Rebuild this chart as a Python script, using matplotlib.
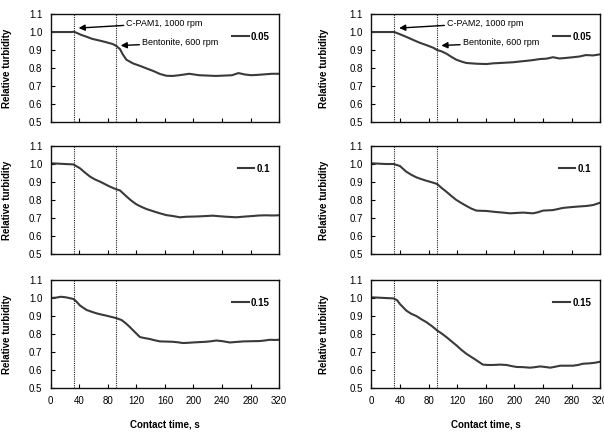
import matplotlib
matplotlib.use("Agg")
import matplotlib.pyplot as plt

plt.rcParams['font.family'] = ['Liberation Sans', 'DejaVu Sans']

# ---------------- data ----------------
t_tl = [0, 10, 20, 30, 32, 36, 42, 50, 58, 69, 78, 87, 92, 97, 101, 106, 115, 125, 134, 144, 153, 162, 171, 180, 194, 208, 220, 231, 243, 254, 263, 272, 281, 290, 300, 310, 320]
v_tl = [1.0, 1.0, 1.0, 1.0, 1.002, 0.996, 0.985, 0.974, 0.962, 0.952, 0.943, 0.933, 0.922, 0.905, 0.875, 0.846, 0.826, 0.812, 0.798, 0.783, 0.767, 0.757, 0.756, 0.760, 0.768, 0.760, 0.758, 0.756, 0.758, 0.760, 0.772, 0.764, 0.760, 0.762, 0.765, 0.768, 0.768]

t_tr = [0, 10, 20, 32, 40, 49, 58, 68, 78, 87, 92, 98, 105, 112, 119, 126, 133, 147, 161, 170, 180, 189, 198, 207, 217, 226, 236, 245, 254, 263, 272, 282, 291, 300, 310, 320]
v_tr = [1.0, 1.0, 1.0, 1.0, 0.988, 0.973, 0.957, 0.940, 0.926, 0.912, 0.900, 0.893, 0.880, 0.862, 0.846, 0.836, 0.828, 0.824, 0.822, 0.826, 0.828, 0.830, 0.832, 0.836, 0.840, 0.844, 0.850, 0.852, 0.860, 0.853, 0.856, 0.860, 0.864, 0.872, 0.870, 0.876]

t_ml = [0, 10, 20, 30, 32, 41, 48, 55, 62, 69, 76, 83, 92, 97, 106, 113, 120, 127, 134, 144, 153, 162, 171, 181, 190, 200, 208, 218, 227, 236, 246, 260, 272, 283, 292, 302, 310, 320]
v_ml = [1.004, 1.002, 1.0, 0.998, 0.997, 0.976, 0.952, 0.930, 0.914, 0.902, 0.888, 0.874, 0.859, 0.853, 0.820, 0.796, 0.776, 0.762, 0.750, 0.737, 0.726, 0.716, 0.711, 0.704, 0.707, 0.708, 0.709, 0.711, 0.713, 0.710, 0.707, 0.704, 0.708, 0.711, 0.714, 0.715, 0.714, 0.715]

t_mr = [0, 10, 20, 31, 40, 49, 56, 63, 70, 77, 85, 92, 98, 105, 112, 119, 126, 133, 140, 147, 161, 175, 184, 194, 203, 212, 219, 226, 233, 240, 254, 268, 278, 287, 301, 310, 320]
v_mr = [1.004, 1.002, 1.0, 1.0, 0.989, 0.957, 0.940, 0.926, 0.916, 0.907, 0.898, 0.889, 0.868, 0.846, 0.822, 0.800, 0.783, 0.767, 0.752, 0.741, 0.739, 0.733, 0.730, 0.726, 0.728, 0.730, 0.728, 0.726, 0.732, 0.741, 0.744, 0.756, 0.760, 0.763, 0.767, 0.772, 0.785]

t_bl = [0, 7, 14, 21, 28, 32, 36, 41, 50, 57, 64, 71, 78, 85, 92, 99, 105, 111, 118, 125, 132, 139, 146, 153, 162, 171, 178, 185, 192, 199, 208, 218, 225, 232, 241, 251, 260, 270, 281, 293, 300, 307, 314, 320]
v_bl = [1.0, 1.002, 1.007, 1.004, 0.998, 0.994, 0.980, 0.958, 0.934, 0.924, 0.915, 0.908, 0.902, 0.895, 0.888, 0.878, 0.860, 0.838, 0.810, 0.783, 0.777, 0.772, 0.765, 0.759, 0.758, 0.757, 0.754, 0.750, 0.751, 0.753, 0.755, 0.757, 0.760, 0.764, 0.760, 0.753, 0.756, 0.759, 0.760, 0.761, 0.764, 0.768, 0.767, 0.768]

t_br = [0, 10, 20, 31, 36, 40, 49, 56, 63, 70, 77, 85, 92, 98, 105, 112, 119, 126, 133, 140, 147, 156, 163, 170, 180, 189, 196, 203, 212, 222, 229, 236, 243, 250, 257, 264, 273, 282, 289, 296, 305, 312, 320]
v_br = [1.004, 1.002, 1.0, 0.998, 0.988, 0.967, 0.930, 0.912, 0.900, 0.882, 0.866, 0.843, 0.820, 0.804, 0.783, 0.760, 0.737, 0.712, 0.690, 0.672, 0.654, 0.630, 0.628, 0.628, 0.630, 0.628, 0.622, 0.617, 0.616, 0.613, 0.616, 0.620, 0.617, 0.613, 0.618, 0.624, 0.624, 0.624, 0.628, 0.635, 0.637, 0.640, 0.646]

doses = ["0.05", "0.1", "0.15"]
x_ticks = [0, 40, 80, 120, 160, 200, 240, 280, 320]
y_ticks = [0.5, 0.6, 0.7, 0.8, 0.9, 1.0, 1.1]
event_times = [32, 92]
left_notes = ["C-PAM1, 1000 rpm", "Bentonite, 600 rpm"]
right_notes = ["C-PAM2, 1000 rpm", "Bentonite, 600 rpm"]

# ---------------- figure ----------------
fig = plt.figure(figsize=(6.04, 4.33), dpi=100)

col_left = [0.0841, 0.6147]
col_w = [0.378, 0.379]
row_bottom = [0.7182, 0.4134, 0.1039]
row_h = 0.2494
ylab_x = [-0.172, -0.185]

series = [[(t_tl, v_tl), (t_ml, v_ml), (t_bl, v_bl)],
          [(t_tr, v_tr), (t_mr, v_mr), (t_br, v_br)]]
notes = [left_notes, right_notes]

FS = 7
for c in range(2):
    for r in range(3):
        ax = fig.add_axes([col_left[c], row_bottom[r], col_w[c], row_h])
        t, v = series[c][r]
        ax.plot(t, v, color='#3a3a3a', lw=1.5, label=doses[r])
        for et in event_times:
            ax.axvline(et, color='#222222', lw=0.8, ls=(0, (1, 1)))
        ax.set_xlim(0, 320)
        ax.set_ylim(0.5, 1.1)
        ax.set_xticks(x_ticks)
        ax.set_yticks(y_ticks)
        ax.set_yticklabels([f"{y:.1f}" for y in y_ticks], fontsize=FS)
        ax.tick_params(direction='in', length=3, width=0.8)
        ax.tick_params(axis='y', pad=6)
        ax.tick_params(axis='x', pad=6)
        if r == 2:
            ax.set_xticklabels([str(x) for x in x_ticks], fontsize=FS)
            ax.set_xlabel("Contact time, s", fontsize=7, fontweight='bold')
            ax.xaxis.set_label_coords(0.5, -0.29)
        else:
            ax.set_xticklabels([])
        ax.set_ylabel("Relative turbidity", fontsize=7, fontweight='bold')
        ax.yaxis.set_label_coords(ylab_x[c], 0.5)
        for s in ax.spines.values():
            s.set_linewidth(1.0)
            s.set_color('#111111')
        ax.legend(loc='center right', bbox_to_anchor=(0.96, 0.79),
                  frameon=False, handlelength=1.7, handletextpad=0.25,
                  borderpad=0, borderaxespad=0,
                  prop={'size': FS, 'weight': 'bold'})
        if r == 0:
            ap = dict(arrowstyle='-|>', color='black', lw=1.0,
                      mutation_scale=9, shrinkA=0, shrinkB=0)
            ax.annotate(notes[c][0], xy=(39, 1.022), xytext=(106, 1.05),
                        fontsize=6.5, va='center', ha='left', arrowprops=ap)
            ax.annotate(notes[c][1], xy=(98, 0.925), xytext=(128, 0.94),
                        fontsize=6.5, va='center', ha='left', arrowprops=ap)

fig.savefig("out.png", dpi=100)
